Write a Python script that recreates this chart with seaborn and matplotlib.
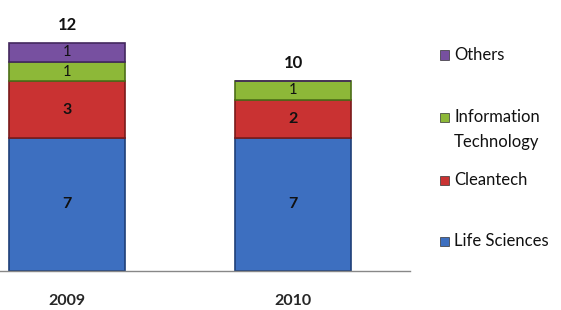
import matplotlib
matplotlib.use("Agg")
import matplotlib.pyplot as plt
import seaborn as sns
import pandas as pd
import numpy as np
from matplotlib.patches import Rectangle

years = ["2009", "2010"]
life_sciences = [7, 7]
cleantech = [3, 2]
info_tech = [1, 1]
others = [1, 0]
totals = [12, 10]

series_names = ["Life Sciences", "Cleantech", "Information\nTechnology", "Others"]
series_vals = [life_sciences, cleantech, info_tech, others]
colors = ["#3d6fc0", "#c93232", "#8db838", "#7750a0"]
edges = ["#1f3f78", "#7a1a1a", "#4d6e18", "#43285e"]

sns.set_theme(style="white")
plt.rcParams["font.family"] = ["Lato", "DejaVu Sans"]

fig = plt.figure(figsize=(5.61, 3.10), dpi=100)
W, H = 561, 310
ax = fig.add_axes([0 / W, (H - 271) / H, 410 / W, (271 - 20) / H])

df = pd.DataFrame({"year": years})
bottom = np.zeros(len(years))
for name, vals, c, ec in zip(series_names, series_vals, colors, edges):
    df["v"] = vals
    sns.barplot(data=df, x="year", y="v", bottom=bottom, color=c, width=0.51,
                edgecolor=ec, linewidth=1.2, saturation=1, ax=ax)
    for i, v in enumerate(vals):
        if v > 0:
            ax.text(i, bottom[i] + v / 2, str(v), ha="center", va="center",
                    fontsize=11.5 if v > 1 else 10.5, fontweight="bold" if v > 1 else "normal",
                    color="#111111")
    bottom = bottom + np.array(vals)

for i, t in enumerate(totals):
    ax.text(i, t + 0.55, str(t), ha="center", va="bottom", fontsize=12,
            fontweight="bold", color="#111111")

ax.set_xlim(-67 / 226, (410 - 67) / 226)
ax.set_ylim(0, (271 - 20) / 19)
ax.set_xlabel("")
ax.set_ylabel("")
ax.set_yticks([])
ax.tick_params(axis="x", length=0, pad=16.5, labelsize=11.5)
for lbl in ax.get_xticklabels():
    lbl.set_fontweight("bold")
for s in ["top", "right", "left"]:
    ax.spines[s].set_visible(False)
ax.spines["bottom"].set_color("#888888")
ax.spines["bottom"].set_linewidth(1.0)

# legend (manual, Excel-like layout)
leg_items = [("Others", 55, colors[3]), ("Information\nTechnology", 117, colors[2]),
             ("Cleantech", 180, colors[1]), ("Life Sciences", 241, colors[0])]
for label, ypx, c in leg_items:
    fig.patches.append(Rectangle((440 / W, (H - ypx - 4.5) / H), 9 / W, 9 / H,
                                 transform=fig.transFigure, facecolor=c,
                                 edgecolor="#333333", linewidth=0.5))
    lines = label.split("\n")
    for k, line in enumerate(lines):
        fig.text(454 / W, (H - ypx - 25 * k) / H, line, ha="left", va="center",
                 fontsize=12, color="#111111")

fig.savefig("out.png", dpi=100)
